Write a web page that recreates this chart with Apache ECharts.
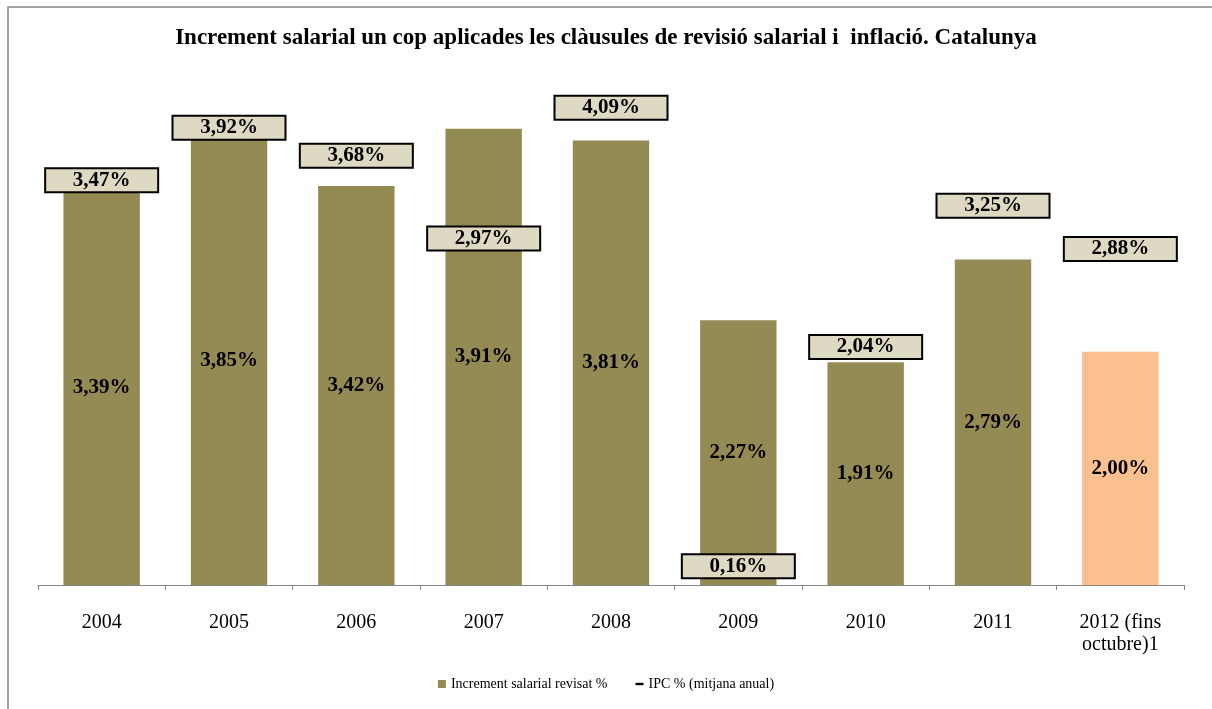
<!DOCTYPE html>
<html>
<head>
<meta charset="utf-8">
<script src="https://cdn.jsdelivr.net/npm/echarts@6/dist/echarts.min.js"></script>
<style>
html,body{margin:0;padding:0;background:#fff;}
#main{width:1212px;height:709px;}
</style>
</head>
<body>
<div id="main"></div>
<script>
var categories = ['2004','2005','2006','2007','2008','2009','2010','2011','2012 (fins\noctubre)1'];
var salaryIncrease = [3.39, 3.85, 3.42, 3.91, 3.81, 2.27, 1.91, 2.79, 2.00];
var ipc = [3.47, 3.92, 3.68, 2.97, 4.09, 0.16, 2.04, 3.25, 2.88];
var seriesNames = ['Increment salarial revisat %', 'IPC % (mitjana anual)'];
var titleText = 'Increment salarial un cop aplicades les clàusules de revisió salarial i  inflació. Catalunya';

var font = '"Liberation Serif", "Times New Roman", serif';
function pct(v){ return Number(v).toFixed(2).replace('.', ',') + '%'; }

var barData = salaryIncrease.map(function(v, i){
  return i === salaryIncrease.length - 1 ? {value: v, itemStyle: {color: '#FAC090'}} : v;
});

var chart = echarts.init(document.getElementById('main'), null, {renderer: 'canvas'});
chart.setOption({
  animation: false,
  backgroundColor: '#fff',
  title: {
    text: titleText,
    left: 'center',
    top: 22,
    textStyle: {fontFamily: font, fontSize: 23, fontWeight: 'bold', color: '#000'}
  },
  graphic: [{
    type: 'rect',
    shape: {x: 8, y: 7, width: 1220, height: 720},
    style: {fill: 'none', stroke: '#868686', lineWidth: 1.5},
    silent: true
  }],
  legend: {
    bottom: 13,
    left: 'center',
    itemWidth: 8,
    itemHeight: 8,
    itemGap: 28,
    textStyle: {fontFamily: font, fontSize: 14, color: '#000'},
    data: [
      {name: seriesNames[0], icon: 'rect'},
      {name: seriesNames[1], icon: 'path://M0,0H10V3H0Z', itemStyle: {color: '#000'}}
    ]
  },
  grid: {left: 38, right: 28, top: 60, bottom: 124},
  xAxis: {
    type: 'category',
    data: categories,
    axisLine: {lineStyle: {color: '#868686', width: 1}},
    axisTick: {show: true, length: 5, lineStyle: {color: '#868686'}},
    axisLabel: {fontFamily: font, fontSize: 20, color: '#000', margin: 27, lineHeight: 22, interval: 0}
  },
  yAxis: {
    type: 'value', min: 0, max: 4.5, show: false,
    splitLine: {show: false}
  },
  series: [
    {
      name: seriesNames[0],
      type: 'bar',
      data: barData,
      barCategoryGap: '40%',
      itemStyle: {color: '#948A54'},
      label: {
        show: true, position: 'inside',
        fontFamily: font, fontSize: 21, fontWeight: 'bold', color: '#000',
        formatter: function(p){ return pct(p.value); }
      },
      z: 2
    },
    {
      name: seriesNames[1],
      type: 'scatter',
      data: ipc,
      symbol: 'rect',
      symbolSize: [10, 3],
      itemStyle: {color: '#000', opacity: 1},
      label: {
        show: true, position: 'inside', opacity: 1,
        fontFamily: font, fontSize: 21, fontWeight: 'bold', color: '#000',
        backgroundColor: '#DDD9C3', borderColor: '#000', borderWidth: 2,
        width: 111, height: 14, lineHeight: 14, padding: [8, 0, 0, 0], align: 'center',
        formatter: function(p){ return pct(p.value); }
      },
      emphasis: {disabled: true},
      z: 5
    }
  ]
});
</script>
</body>
</html>
